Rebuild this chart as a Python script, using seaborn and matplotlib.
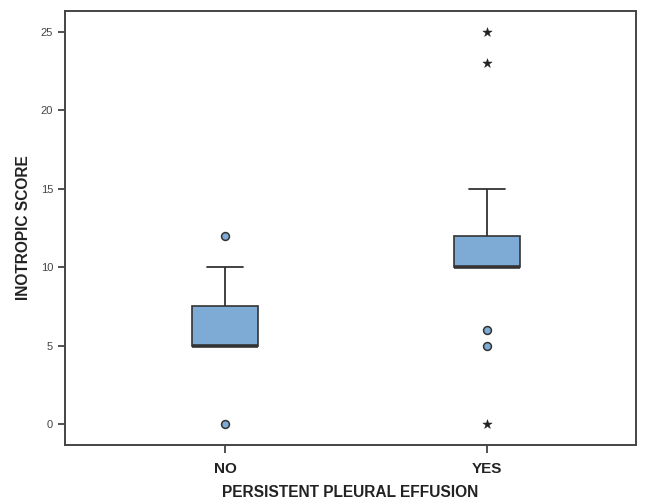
import numpy as np
import pandas as pd
import matplotlib
matplotlib.use("Agg")
import matplotlib.pyplot as plt
import seaborn as sns

groups = ["NO", "YES"]
no_scores = [0, 5, 5, 5, 5, 7, 7.5, 10, 12]
yes_scores = [0, 5, 6, 10, 10, 10, 10, 10, 10, 11, 11, 12, 12, 13, 15, 23, 25]

df = pd.DataFrame({
    "group": ["NO"] * len(no_scores) + ["YES"] * len(yes_scores),
    "score": no_scores + yes_scores,
})

# classify outliers SPSS-style: circles (1.5-3 IQR) and stars (>3 IQR)
out_rows = []
for g, vals in zip(groups, [no_scores, yes_scores]):
    v = np.array(vals, dtype=float)
    q1, q3 = np.percentile(v, [25, 75])
    iqr = q3 - q1
    for x in v:
        if x < q1 - 3 * iqr or x > q3 + 3 * iqr:
            out_rows.append((g, x, "extreme"))
        elif x < q1 - 1.5 * iqr or x > q3 + 1.5 * iqr:
            out_rows.append((g, x, "outlier"))
outs = pd.DataFrame(out_rows, columns=["group", "score", "kind"])

sns.set_style("white")
plt.rcParams["font.family"] = ["Liberation Sans", "DejaVu Sans"]

fig = plt.figure(figsize=(6.48, 5.03), dpi=100)
ax = fig.add_axes([65 / 648, 58 / 503, 571 / 648, 434 / 503])

box_color = "#7eaad6"
edge = "#333333"
sns.boxplot(data=df, x="group", y="score", order=groups, width=0.25,
            color=box_color, showfliers=False, whis=1.5,
            linewidth=1.2, linecolor=edge,
            boxprops=dict(facecolor=box_color, edgecolor=edge),
            medianprops=dict(color=edge, linewidth=2.6),
            whiskerprops=dict(color=edge, linewidth=1.3),
            capprops=dict(color=edge, linewidth=1.3),
            capwidths=0.14, ax=ax, zorder=2)

o = outs[outs.kind == "outlier"]
e = outs[outs.kind == "extreme"]
sns.scatterplot(data=o, x="group", y="score", marker="o", s=32,
                color=box_color, edgecolor=edge, linewidth=1.1, ax=ax, zorder=3)
sns.scatterplot(data=e, x="group", y="score", marker="*", s=50,
                color="#222222", edgecolor="#222222", linewidth=0.3, ax=ax, zorder=3)

ax.set_xlim(-0.611, 1.569)
ax.set_ylim(-1.34, 26.34)
ax.set_yticks([0, 5, 10, 15, 20, 25])
ax.tick_params(axis="y", direction="out", length=5, width=1.2, color=edge,
               labelsize=8, labelcolor="#444444", left=True)
ax.tick_params(axis="x", direction="out", length=6, width=1.2, color=edge,
               labelsize=11, pad=6, bottom=True)
for lbl in ax.get_xticklabels():
    lbl.set_fontweight("bold")
    lbl.set_color("#222222")
for s in ax.spines.values():
    s.set_color("#444444")
    s.set_linewidth(1.4)

ax.set_xlabel("PERSISTENT PLEURAL EFFUSION", fontsize=11.2, fontweight="bold",
              color="#222222", labelpad=7)
ax.set_ylabel("INOTROPIC SCORE", fontsize=11.2, fontweight="bold",
              color="#222222", labelpad=7)

fig.savefig("out.png", dpi=100)
